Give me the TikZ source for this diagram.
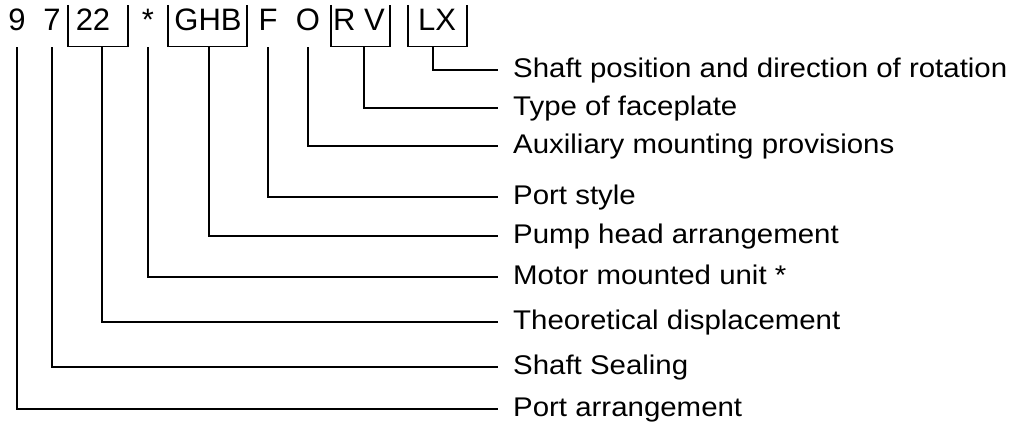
\documentclass[tikz,border=0pt]{standalone}
\usepackage{fontspec}
\setmainfont{Liberation Sans}
\newfontfamily\labfont[FakeStretch=1.09]{Liberation Sans}
\newfontfamily\codefont{Liberation Sans}
\begin{document}
\begin{tikzpicture}[x=1pt,y=-1pt,
  code/.style={inner sep=0pt, text height=22pt, text depth=16pt,
    font=\codefont\fontsize{31}{31}\selectfont, anchor=base},
  bracketbox/.style={inner sep=0pt, minimum height=41pt, anchor=north},
  lab/.style={anchor=west, inner sep=0pt, text height=20pt, text depth=4pt,
    font=\labfont\fontsize{27}{27}\selectfont},
  conn/.style={line width=1.7pt, shorten >=15pt},
  brk/.style={line width=1.7pt}]
\useasboundingbox (0,0) rectangle (1010,427);
% code characters
\node[code] (t9) at (17,31) {9};
\node[code] (t7) at (52,31) {7};
\node[code] (t22) at (93,31) {22};
\node[code] (tst) at (148,31) {*};
\node[code] (tGHB) at (208,31) {GHB};
\node[code] (tF) at (268,31) {F};
\node[code] (tO) at (308,31) {O};
\node[code] (tRV) at (359,31) {R V};
\node[code] (tLX) at (437,31) {LX};
% bracket boxes
\node[bracketbox, minimum width=60pt] (b22) at (98,5) {};
\node[bracketbox, minimum width=79pt] (bGHB) at (207.5,5) {};
\node[bracketbox, minimum width=59pt] (bRV) at (360.5,5) {};
\node[bracketbox, minimum width=58pt] (bLX) at (437.5,5) {};
\foreach \b in {b22,bGHB,bRV,bLX}
  \draw[brk] (\b.north west) -- (\b.south west) -- (\b.south east) -- (\b.north east);
% labels
\node[lab] (lLX) at (513,70) {Shaft position and direction of rotation};
\node[lab] (lRV) at (513,108) {Type of faceplate};
\node[lab] (lO) at (513,146) {Auxiliary mounting provisions};
\node[lab] (lF) at (513,197) {Port style};
\node[lab] (lGHB) at (513,236) {Pump head arrangement};
\node[lab] (lst) at (513,277) {Motor mounted unit *};
\node[lab] (l22) at (513,322) {Theoretical displacement};
\node[lab] (l7) at (513,367) {Shaft Sealing};
\node[lab] (l9) at (513,409) {Port arrangement};
% connectors
\draw[conn] ([xshift=-4.5pt]bLX.south) |- (lLX.west);
\draw[conn] ([xshift=3.5pt]bRV.south) |- (lRV.west);
\draw[conn] (tO.south) |- (lO.west);
\draw[conn] (tF.south) |- (lF.west);
\draw[conn] ([xshift=1.5pt]bGHB.south) |- (lGHB.west);
\draw[conn] (tst.south) |- (lst.west);
\draw[conn] ([xshift=4pt]b22.south) |- (l22.west);
\draw[conn] (t7.south) |- (l7.west);
\draw[conn] (t9.south) |- (l9.west);
\end{tikzpicture}
\end{document}
